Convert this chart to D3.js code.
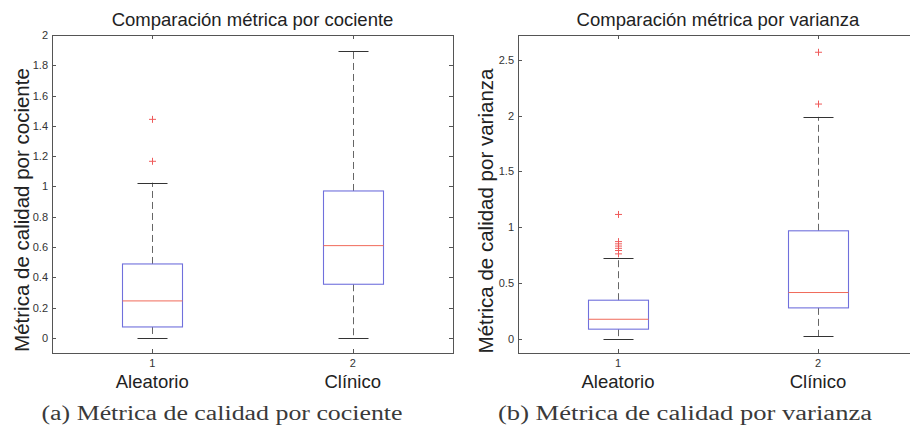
<!DOCTYPE html>
<html>
<head>
<meta charset="utf-8">
<script src="https://cdn.jsdelivr.net/npm/d3@7"></script>
<style>
  html, body { margin: 0; padding: 0; background: #fff; }
  svg { display: block; }
</style>
</head>
<body>
<svg id="fig" width="910" height="435"></svg>
<script>
// Group labels and tick numbers shared by both panels
const categories = ["Aleatorio", "Clínico"];
const categoryTicks = ["1", "2"];

// Quality metric by ratio (cociente): box-plot summaries
const cocienteLow = [0, 0];
const cocienteQ1 = [0.072, 0.354];
const cocienteMedian = [0.244, 0.609];
const cocienteQ3 = [0.488, 0.97];
const cocienteHigh = [1.025, 1.897];
const cocienteOutliers = [[1.166, 1.443], []];
const cocienteTicks = [0, 0.2, 0.4, 0.6, 0.8, 1, 1.2, 1.4, 1.6, 1.8, 2];

// Quality metric by variance (varianza): box-plot summaries
const varianzaLow = [0, 0.02];
const varianzaQ1 = [0.084, 0.275];
const varianzaMedian = [0.173, 0.413];
const varianzaQ3 = [0.344, 0.967];
const varianzaHigh = [0.724, 1.99];
const varianzaOutliers = [[0.76, 0.79, 0.81, 0.83, 0.85, 0.87, 1.114], [2.105, 2.57]];
const varianzaTicks = [0, 0.5, 1, 1.5, 2, 2.5];

const svg = d3.select("#fig");

const BOX_COLOR = "#7070dc";
const MED_COLOR = "#f06a5a";
const OUT_COLOR = "#ef5a5a";
const INK = "#333";
const FRAME = "#555";
const SANS = "Liberation Sans, Arial, sans-serif";

function panel(opts) {
  const { left, right, top, bottom, yDomain, ticks, low, q1, med, q3, high, outliers,
          title, ylabel, caption, captionX, ylabelX, ylabelY, fmt } = opts;
  const g = svg.append("g");

  const x = d3.scaleLinear().domain([0.5, 2.5]).range([left, right]);
  const y = d3.scaleLinear().domain(yDomain).range([bottom, top]);
  const xs = [1, 2];

  // axes frame
  const frame = g.append("g").attr("stroke", FRAME).attr("fill", "none").attr("stroke-width", 1);
  frame.append("line").attr("x1", left).attr("x2", right).attr("y1", top + 0.5).attr("y2", top + 0.5);
  frame.append("line").attr("x1", left).attr("x2", right).attr("y1", bottom + 0.5).attr("y2", bottom + 0.5);
  frame.append("line").attr("x1", left + 0.5).attr("x2", left + 0.5).attr("y1", top).attr("y2", bottom + 1);
  frame.append("line").attr("x1", right + 0.5).attr("x2", right + 0.5).attr("y1", top).attr("y2", bottom + 1);

  // inward tick marks: y ticks on both sides, x ticks top and bottom
  const tk = 4;
  ticks.forEach(t => {
    const yy = Math.round(y(t)) + 0.5;
    frame.append("line").attr("x1", left).attr("x2", left + tk).attr("y1", yy).attr("y2", yy);
    frame.append("line").attr("x1", right - tk).attr("x2", right).attr("y1", yy).attr("y2", yy);
  });
  xs.forEach(v => {
    const xx = Math.round(x(v)) + 0.5;
    frame.append("line").attr("x1", xx).attr("x2", xx).attr("y1", top).attr("y2", top + tk);
    frame.append("line").attr("x1", xx).attr("x2", xx).attr("y1", bottom).attr("y2", bottom - tk);
  });

  // y tick labels
  g.append("g").selectAll("text").data(ticks).join("text")
    .attr("x", left - 4).attr("y", d => y(d) + 4)
    .attr("text-anchor", "end")
    .attr("font-family", SANS)
    .attr("font-size", 11).attr("fill", INK)
    .text(d => fmt(d));

  // x tick numbers and group names
  g.append("g").selectAll("text").data(xs).join("text")
    .attr("x", d => x(d)).attr("y", 367)
    .attr("text-anchor", "middle")
    .attr("font-family", SANS)
    .attr("font-size", 11).attr("fill", INK)
    .text((d, i) => categoryTicks[i]);
  g.append("g").selectAll("text").data(xs).join("text")
    .attr("x", d => x(d)).attr("y", 388)
    .attr("text-anchor", "middle")
    .attr("font-family", SANS)
    .attr("font-size", 18.5).attr("fill", "#222")
    .text((d, i) => categories[i]);

  // boxes
  const halfBox = 30, halfCap = 15;
  const boxes = g.append("g");
  xs.forEach((v, i) => {
    const cx = Math.round(x(v)) + 0.5;
    // whiskers (dashed)
    boxes.append("line").attr("x1", cx).attr("x2", cx)
      .attr("y1", y(q3[i])).attr("y2", y(high[i]))
      .attr("stroke", "#666").attr("stroke-dasharray", "7,4").attr("stroke-width", 1);
    boxes.append("line").attr("x1", cx).attr("x2", cx)
      .attr("y1", y(q1[i])).attr("y2", y(low[i]))
      .attr("stroke", "#666").attr("stroke-dasharray", "7,4").attr("stroke-width", 1);
    // caps
    [low[i], high[i]].forEach(vv => {
      boxes.append("line").attr("x1", cx - halfCap).attr("x2", cx + halfCap)
        .attr("y1", Math.round(y(vv)) + 0.5).attr("y2", Math.round(y(vv)) + 0.5)
        .attr("stroke", "#333").attr("stroke-width", 1);
    });
    // box
    boxes.append("rect")
      .attr("x", cx - halfBox).attr("width", 2 * halfBox)
      .attr("y", y(q3[i])).attr("height", y(q1[i]) - y(q3[i]))
      .attr("fill", "none").attr("stroke", BOX_COLOR).attr("stroke-width", 1.1);
    // median
    boxes.append("line").attr("x1", cx - halfBox).attr("x2", cx + halfBox)
      .attr("y1", y(med[i])).attr("y2", y(med[i]))
      .attr("stroke", MED_COLOR).attr("stroke-width", 1);
    // outliers as "+"
    outliers[i].forEach(o => {
      const oy = y(o);
      boxes.append("path")
        .attr("d", `M${cx - 3.5},${oy}H${cx + 3.5}M${cx},${oy - 3.5}V${oy + 3.5}`)
        .attr("stroke", OUT_COLOR).attr("stroke-width", 1).attr("fill", "none");
    });
  });

  // title
  g.append("text")
    .attr("x", (left + right) / 2).attr("y", 26)
    .attr("text-anchor", "middle")
    .attr("font-family", SANS)
    .attr("font-size", 18.5).attr("fill", "#222")
    .text(title);

  // y axis label
  g.append("text")
    .attr("transform", `translate(${ylabelX},${ylabelY}) rotate(-90)`)
    .attr("text-anchor", "middle")
    .attr("font-family", SANS)
    .attr("font-size", 20.5).attr("fill", "#222")
    .text(ylabel);

  // caption below the panel
  g.append("text")
    .attr("x", captionX).attr("y", 420)
    .attr("text-anchor", "middle")
    .attr("font-family", "Liberation Serif, Times New Roman, serif")
    .attr("font-size", 20).attr("fill", "#3a3a3a")
    .attr("textLength", opts.captionWidth).attr("lengthAdjust", "spacingAndGlyphs")
    .text(caption);
}

const fmtPlain = d => d3.format("~g")(d);

panel({
  left: 52, right: 453, top: 35, bottom: 353,
  yDomain: [-0.1, 2], ticks: cocienteTicks,
  low: cocienteLow, q1: cocienteQ1, med: cocienteMedian, q3: cocienteQ3,
  high: cocienteHigh, outliers: cocienteOutliers,
  title: "Comparación métrica por cociente",
  ylabel: "Métrica de calidad por cociente",
  ylabelX: 29, ylabelY: 210,
  caption: "(a) Métrica de calidad por cociente", captionX: 222, captionWidth: 361,
  fmt: fmtPlain
});

panel({
  left: 518, right: 918, top: 35, bottom: 353,
  yDomain: [-0.13, 2.725], ticks: varianzaTicks,
  low: varianzaLow, q1: varianzaQ1, med: varianzaMedian, q3: varianzaQ3,
  high: varianzaHigh, outliers: varianzaOutliers,
  title: "Comparación métrica por varianza",
  ylabel: "Métrica de calidad por varianza",
  ylabelX: 493, ylabelY: 211,
  caption: "(b) Métrica de calidad por varianza", captionX: 685, captionWidth: 374,
  fmt: fmtPlain
});
</script>
</body>
</html>
